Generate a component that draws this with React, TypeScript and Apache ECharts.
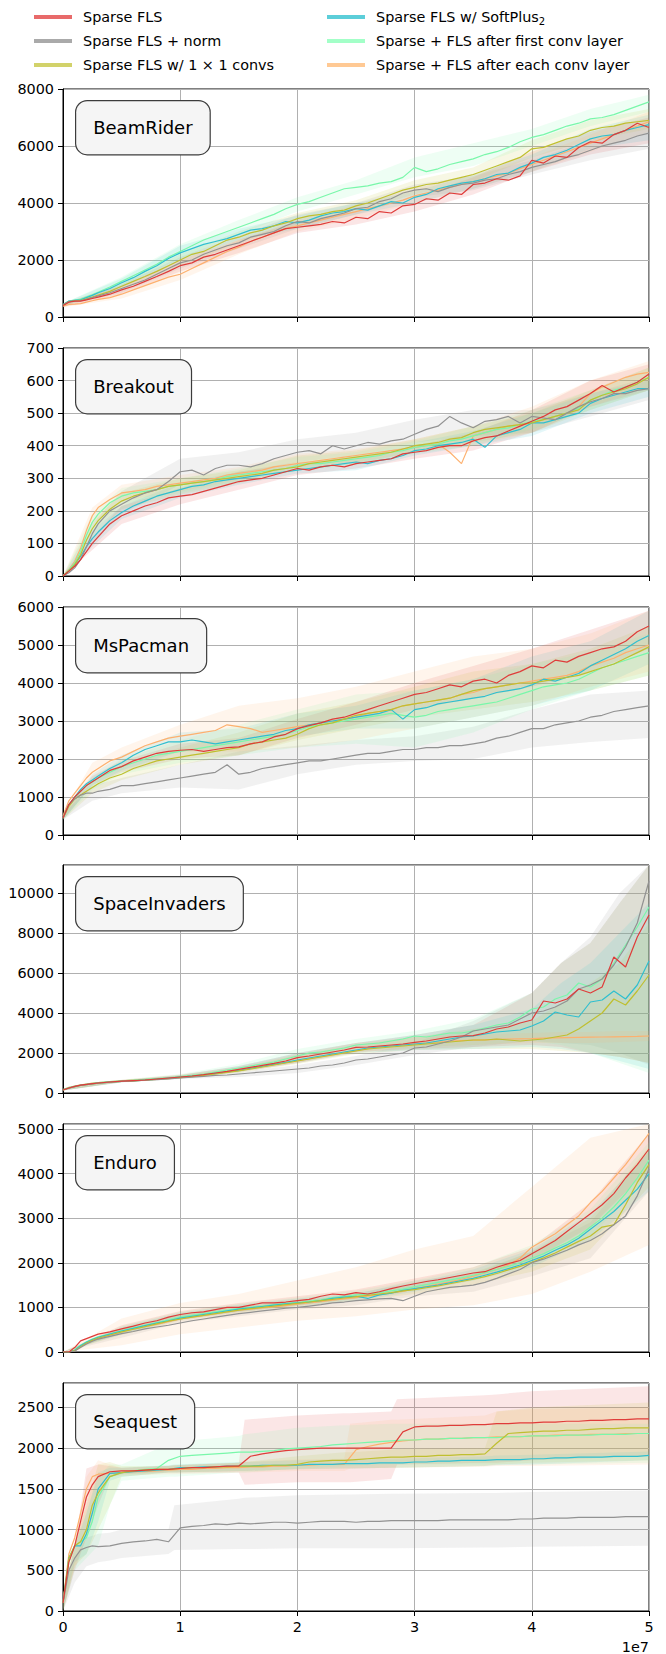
import React, { useEffect, useRef } from "react";
import * as echarts from "echarts";

// ---------- legend / series names ----------
const NAMES = [
  "Sparse FLS",
  "Sparse FLS + norm",
  "Sparse FLS w/ 1 \u00d7 1 convs",
  "Sparse FLS w/ SoftPlus{sub|2}",
  "Sparse + FLS after first conv layer",
  "Sparse + FLS after each conv layer",
];
const LINE_COLORS = ["#df3c3a", "#929292", "#bfbf30", "#2fbfcf", "#79f7aa", "#fdb06e"];
const SWATCH_COLORS = ["#e86a6a", "#aaaaaa", "#d2d26a", "#5cced9", "#a3ffc8", "#ffc994"];
const BAND_RGB = ["224,65,63", "146,146,146", "191,191,48", "47,191,207", "121,247,170", "253,176,110"];

const TITLES = ["BeamRider", "Breakout", "MsPacman", "SpaceInvaders", "Enduro", "Seaquest"];
const Y_MAX = [8000, 700, 6000, 11400, 5110, 2800];
const Y_INTERVAL = [2000, 100, 1000, 2000, 1000, 500];
const X_TICKS = [0, 1, 2, 3, 4, 5];

// steps, in units of 1e7
const X = [0, 0.05, 0.1, 0.15, 0.2, 0.25, 0.3,
  0.4, 0.5, 0.6, 0.7, 0.8, 0.9, 1.0, 1.1, 1.2, 1.3,
  1.4, 1.5, 1.6, 1.7, 1.8, 1.9, 2.0, 2.1, 2.2, 2.3,
  2.4, 2.5, 2.6, 2.7, 2.8, 2.9, 3.0, 3.1, 3.2, 3.3,
  3.4, 3.5, 3.6, 3.7, 3.8, 3.9, 4.0, 4.1, 4.2, 4.3,
  4.4, 4.5, 4.6, 4.7, 4.8, 4.9, 5.0];

// ---------- BeamRider ----------
const BEAM_RED = [400, 520, 560, 560, 600, 650, 700,
  800, 950, 1080, 1250, 1420, 1600, 1800, 1900, 2100, 2200,
  2350, 2500, 2650, 2800, 2950, 3100, 3150, 3200, 3250, 3350,
  3300, 3500, 3450, 3700, 3650, 3900, 3950, 4150, 4100, 4350,
  4300, 4650, 4700, 4850, 4800, 4950, 5500, 5400, 5650, 5600,
  5950, 6150, 6100, 6400, 6550, 6800, 6650];
const BEAM_GRAY = [420, 540, 560, 570, 620, 680, 740,
  850, 1000, 1150, 1300, 1500, 1700, 1900, 2000, 2200, 2350,
  2500, 2600, 2800, 2900, 3000, 3200, 3350, 3300, 3450, 3550,
  3650, 3800, 3850, 4050, 4150, 4350, 4450, 4500, 4400, 4550,
  4650, 4700, 4800, 4850, 5000, 5100, 5250, 5350, 5450, 5600,
  5700, 5850, 6000, 6100, 6200, 6350, 6450];
const BEAM_OLIVE = [420, 540, 570, 580, 640, 700, 770,
  900, 1080, 1250, 1420, 1600, 1800, 2000, 2200, 2300, 2500,
  2700, 2800, 2950, 3050, 3200, 3300, 3450, 3550, 3600, 3700,
  3750, 3900, 4000, 4150, 4300, 4450, 4550, 4650, 4700, 4800,
  4900, 5000, 5150, 5300, 5450, 5600, 5900, 5950, 6100, 6250,
  6350, 6550, 6650, 6700, 6800, 6850, 6900];
const BEAM_CYAN = [430, 560, 580, 600, 680, 760, 850,
  1000, 1200, 1380, 1600, 1800, 2050, 2250, 2400, 2550, 2650,
  2750, 2900, 3050, 3100, 3200, 3350, 3300, 3400, 3550, 3650,
  3700, 3800, 3750, 3900, 4050, 4000, 4200, 4300, 4500, 4600,
  4700, 4750, 4850, 5000, 5050, 5250, 5400, 5600, 5700, 5850,
  6050, 6250, 6350, 6400, 6550, 6650, 6750];
const BEAM_MINT = [430, 560, 590, 620, 700, 780, 870,
  1050, 1250, 1450, 1650, 1850, 2100, 2300, 2500, 2700, 2850,
  3000, 3150, 3300, 3450, 3600, 3800, 3950, 4050, 4200, 4350,
  4500, 4550, 4600, 4700, 4750, 4900, 5250, 5100, 5200, 5350,
  5450, 5550, 5700, 5800, 5950, 6150, 6300, 6400, 6550, 6700,
  6800, 6950, 7000, 7100, 7250, 7400, 7550];
const BEAM_PEACH = [380, 440, 450, 470, 520, 570, 620,
  680, 800, 950, 1100, 1250, 1400, 1500, 1700, 1900, 2100,
  2300, 2450, 2650, 2800, 2950, 3100, 3200, 3300, 3400, 3500,
  3600, 3700, 3800, 3900, 4000, 4100, 4250, 4350, 4450, 4550,
  4650, 4750, 4850, 4950, 5050, 5200, 5350, 5500, 5650, 5800,
  5950, 6100, 6250, 6400, 6550, 6700, 6850];
const BEAM_BX = [0, 0.5, 1, 1.5, 2, 2.5, 3, 3.5, 4, 4.5, 5];
const BEAM_RED_LO = [350, 800, 1600, 2250, 2950, 3250, 3700, 4300, 5100, 5700, 6100];
const BEAM_RED_HI = [480, 1100, 2000, 2700, 3350, 3700, 4200, 4900, 5800, 6500, 7000];
const BEAM_GRAY_LO = [380, 850, 1700, 2400, 3100, 3600, 4200, 4450, 5000, 5500, 5900];
const BEAM_GRAY_HI = [460, 1150, 2100, 2850, 3600, 4000, 4650, 4950, 5500, 6200, 6800];
const BEAM_OLIVE_LO = [380, 950, 1800, 2600, 3250, 3700, 4300, 4750, 5600, 6200, 6600];
const BEAM_OLIVE_HI = [460, 1200, 2200, 3000, 3650, 4100, 4800, 5250, 6200, 6900, 7300];
const BEAM_CYAN_LO = [390, 1050, 2000, 2700, 3100, 3600, 4000, 4500, 5100, 5900, 6200];
const BEAM_CYAN_HI = [470, 1350, 2500, 3100, 3550, 4000, 4400, 5000, 5700, 6600, 7100];
const BEAM_MINT_LO = [390, 1100, 2050, 2900, 3700, 4300, 4900, 5300, 6000, 6700, 7200];
const BEAM_MINT_HI = [470, 1400, 2550, 3400, 4200, 4800, 5600, 6100, 6600, 7300, 7800];
const BEAM_PEACH_LO = [340, 650, 1300, 2200, 3000, 3450, 4000, 4500, 5100, 5800, 6500];
const BEAM_PEACH_HI = [420, 950, 1750, 2700, 3400, 3950, 4500, 5000, 5600, 6400, 7200];

// ---------- Breakout ----------
const BRK_RED = [0, 15, 30, 50, 75, 100, 120,
  160, 185, 200, 215, 225, 240, 245, 250, 260, 270,
  280, 290, 295, 300, 310, 320, 330, 325, 335, 340,
  335, 345, 350, 355, 360, 375, 380, 385, 395, 400,
  400, 415, 425, 430, 445, 460, 475, 490, 510, 520,
  540, 560, 585, 565, 580, 595, 620];
const BRK_GRAY = [0, 10, 25, 50, 90, 130, 160,
  200, 220, 240, 255, 265, 290, 320, 325, 310, 330,
  340, 340, 335, 345, 360, 370, 380, 385, 375, 400,
  390, 400, 410, 405, 415, 420, 435, 450, 460, 490,
  470, 455, 475, 480, 490, 470, 490, 485, 480, 500,
  520, 535, 545, 560, 560, 570, 575];
const BRK_OLIVE = [0, 15, 35, 65, 110, 145, 170,
  205, 230, 245, 255, 265, 275, 280, 285, 290, 295,
  300, 305, 310, 315, 325, 330, 335, 345, 350, 355,
  360, 365, 370, 375, 380, 390, 400, 405, 410, 420,
  425, 440, 450, 455, 460, 465, 470, 480, 490, 500,
  510, 540, 555, 565, 575, 590, 610];
const BRK_CYAN = [0, 15, 35, 60, 90, 115, 135,
  170, 195, 215, 230, 245, 255, 265, 275, 280, 290,
  295, 300, 305, 310, 315, 320, 325, 330, 335, 340,
  345, 350, 345, 355, 360, 370, 385, 390, 400, 405,
  410, 420, 395, 430, 440, 450, 470, 470, 480, 490,
  500, 530, 545, 555, 565, 575, 575];
const BRK_MINT = [0, 18, 40, 75, 125, 165, 190,
  225, 245, 255, 260, 265, 275, 280, 285, 290, 295,
  305, 310, 315, 320, 325, 330, 340, 345, 345, 350,
  355, 360, 365, 370, 380, 385, 395, 400, 405, 415,
  420, 430, 440, 450, 455, 465, 475, 480, 490, 500,
  515, 540, 555, 570, 580, 595, 610];
const BRK_PEACH = [0, 20, 45, 85, 140, 185, 210,
  235, 255, 260, 265, 275, 280, 285, 290, 295, 300,
  310, 315, 320, 325, 335, 340, 345, 350, 355, 360,
  365, 370, 375, 380, 385, 390, 395, 400, 405, 380,
  345, 430, 440, 450, 460, 465, 470, 480, 490, 500,
  520, 560, 580, 595, 610, 620, 625];
const BRK_BX = [0, 0.25, 0.5, 1, 1.5, 2, 2.5, 3, 3.5, 4, 4.5, 5];
const BRK_RED_LO = [0, 80, 160, 220, 265, 310, 330, 360, 385, 440, 520, 570];
const BRK_RED_HI = [0, 120, 215, 270, 320, 350, 365, 400, 440, 510, 600, 650];
const BRK_GRAY_LO = [0, 100, 190, 280, 310, 350, 370, 410, 430, 440, 490, 540];
const BRK_GRAY_HI = [0, 160, 260, 360, 380, 420, 440, 480, 510, 510, 560, 610];
const BRK_OLIVE_LO = [0, 120, 205, 250, 285, 325, 345, 380, 410, 440, 510, 570];
const BRK_OLIVE_HI = [0, 170, 255, 300, 325, 370, 385, 420, 460, 500, 570, 640];
const BRK_CYAN_LO = [0, 90, 175, 240, 280, 315, 325, 370, 400, 430, 500, 550];
const BRK_CYAN_HI = [0, 140, 215, 285, 320, 345, 370, 410, 445, 500, 560, 600];
const BRK_MINT_LO = [0, 140, 220, 255, 290, 325, 340, 375, 400, 450, 510, 570];
const BRK_MINT_HI = [0, 190, 270, 300, 330, 365, 380, 415, 460, 510, 570, 640];
const BRK_PEACH_LO = [0, 160, 230, 260, 295, 335, 350, 380, 400, 440, 520, 580];
const BRK_PEACH_HI = [0, 210, 280, 310, 335, 375, 390, 420, 460, 520, 600, 660];

// ---------- MsPacman ----------
const PAC_RED = [450, 800, 1000, 1150, 1300, 1400, 1500,
  1700, 1800, 1950, 2050, 2150, 2200, 2230, 2250, 2200, 2250,
  2300, 2320, 2400, 2450, 2580, 2650, 2800, 2880, 2950, 3050,
  3100, 3200, 3300, 3400, 3500, 3600, 3700, 3750, 3850, 3950,
  3900, 4050, 4100, 4000, 4200, 4300, 4450, 4400, 4600, 4550,
  4700, 4800, 4900, 4950, 5100, 5350, 5500];
const PAC_GRAY = [450, 800, 950, 1050, 1100, 1100, 1150,
  1200, 1300, 1300, 1350, 1400, 1450, 1500, 1550, 1600, 1650,
  1850, 1600, 1650, 1750, 1800, 1850, 1900, 1950, 1950, 2000,
  2050, 2100, 2150, 2150, 2200, 2250, 2250, 2300, 2300, 2350,
  2350, 2400, 2450, 2550, 2600, 2700, 2800, 2800, 2900, 2950,
  3000, 3100, 3150, 3250, 3300, 3350, 3400];
const PAC_OLIVE = [450, 750, 950, 1050, 1150, 1250, 1350,
  1500, 1600, 1750, 1850, 1950, 2000, 2050, 2100, 2150, 2200,
  2250, 2300, 2400, 2450, 2500, 2550, 2650, 2800, 2900, 2950,
  3050, 3150, 3200, 3250, 3300, 3400, 3450, 3500, 3550, 3600,
  3700, 3800, 3850, 3900, 3950, 4000, 4000, 4050, 4100, 4150,
  4200, 4300, 4400, 4500, 4650, 4800, 4950];
const PAC_CYAN = [450, 800, 1000, 1200, 1350, 1450, 1550,
  1750, 1900, 2100, 2250, 2350, 2450, 2450, 2500, 2450, 2400,
  2450, 2500, 2550, 2600, 2650, 2750, 2800, 2900, 2950, 3000,
  3050, 3100, 3150, 3200, 3300, 3050, 3300, 3350, 3450, 3500,
  3550, 3600, 3650, 3750, 3800, 3850, 3950, 4100, 4050, 4150,
  4250, 4450, 4600, 4750, 4900, 5100, 5250];
const PAC_MINT = [450, 780, 980, 1150, 1300, 1400, 1500,
  1650, 1800, 1900, 2000, 2100, 2150, 2200, 2250, 2300, 2350,
  2400, 2450, 2500, 2550, 2600, 2650, 2750, 2850, 2900, 2950,
  3000, 3050, 3100, 3150, 3200, 3150, 3100, 3150, 3250, 3300,
  3350, 3400, 3450, 3500, 3600, 3700, 3800, 3900, 3950, 4000,
  4100, 4250, 4400, 4500, 4600, 4700, 4800];
const PAC_PEACH = [500, 900, 1100, 1300, 1500, 1650, 1750,
  1950, 2050, 2200, 2350, 2450, 2550, 2600, 2650, 2700, 2750,
  2900, 2850, 2800, 2700, 2750, 2800, 2850, 2900, 2950, 3000,
  3050, 3100, 3200, 3250, 3300, 3400, 3450, 3500, 3550, 3600,
  3700, 3750, 3850, 3900, 3950, 4000, 4050, 4100, 4150, 4200,
  4300, 4450, 4550, 4650, 4800, 4900, 5000];
const PAC_BX = [0, 0.25, 0.5, 1, 1.5, 2, 2.5, 3, 3.5, 4, 4.5, 5];
const PAC_RED_LO = [400, 1300, 1650, 2000, 2100, 2550, 2900, 3300, 3600, 3900, 4300, 4900];
const PAC_RED_HI = [550, 1550, 1950, 2400, 2550, 3050, 3500, 4000, 4450, 4900, 5400, 5900];
const PAC_GRAY_LO = [400, 900, 1100, 1250, 1200, 1600, 1850, 1950, 2000, 2300, 2450, 2550];
const PAC_GRAY_HI = [550, 1300, 1500, 1850, 2200, 2350, 2500, 2600, 2850, 3300, 3700, 3800];
const PAC_OLIVE_LO = [400, 1100, 1450, 1850, 2100, 2500, 2800, 3100, 3300, 3500, 3800, 4200];
const PAC_OLIVE_HI = [550, 1400, 1800, 2300, 2700, 3200, 3500, 3900, 4300, 4500, 4900, 5500];
const PAC_CYAN_LO = [400, 1300, 1700, 2200, 2300, 2600, 2800, 2800, 3100, 3400, 3800, 4500];
const PAC_CYAN_HI = [550, 1600, 2100, 2700, 2800, 3200, 3400, 3800, 4100, 4700, 5100, 5900];
const PAC_MINT_LO = [400, 1200, 1600, 1900, 2100, 2300, 2400, 2300, 2700, 3300, 3800, 4200];
const PAC_MINT_HI = [550, 1500, 2000, 2500, 2900, 3300, 3700, 3800, 4100, 4500, 4800, 5300];
const PAC_PEACH_LO = [450, 1400, 1800, 2200, 2200, 2300, 2500, 2800, 3100, 3400, 3900, 4300];
const PAC_PEACH_HI = [600, 1900, 2300, 2900, 3400, 3600, 3900, 4300, 4700, 4900, 5300, 5900];

// ---------- SpaceInvaders ----------
const SI_RED = [150, 250, 330, 390, 430, 470, 500,
  550, 590, 620, 650, 700, 750, 800, 850, 920, 1000,
  1080, 1180, 1280, 1380, 1480, 1600, 1770, 1850, 1950, 2050,
  2150, 2280, 2300, 2350, 2400, 2450, 2530, 2600, 2700, 2800,
  2850, 2870, 3000, 3200, 3300, 3500, 3650, 4600, 4500, 4700,
  5200, 5000, 5300, 6800, 6300, 7800, 8900];
const SI_GRAY = [150, 240, 320, 380, 420, 460, 490,
  540, 580, 610, 640, 670, 710, 750, 790, 830, 880,
  900, 950, 1000, 1050, 1100, 1150, 1200, 1250, 1350, 1400,
  1500, 1650, 1700, 1800, 1900, 2000, 2250, 2300, 2450, 2600,
  2800, 3100, 3200, 3300, 3400, 3700, 4000, 4100, 4300, 4600,
  5200, 5400, 5700, 6400, 7300, 8500, 10600];
const SI_OLIVE = [150, 250, 320, 380, 420, 460, 490,
  540, 580, 610, 640, 680, 720, 770, 820, 880, 950,
  1030, 1110, 1200, 1300, 1400, 1500, 1600, 1700, 1800, 1900,
  2000, 2100, 2200, 2250, 2300, 2350, 2400, 2450, 2500, 2550,
  2600, 2650, 2650, 2700, 2650, 2600, 2650, 2700, 2800, 2900,
  3200, 3600, 4000, 4700, 4400, 5100, 5900];
const SI_CYAN = [160, 250, 320, 380, 420, 460, 490,
  540, 580, 610, 640, 690, 740, 790, 840, 900, 980,
  1050, 1130, 1230, 1330, 1430, 1530, 1650, 1750, 1850, 1950,
  2050, 2150, 2250, 2300, 2350, 2400, 2450, 2500, 2600, 2700,
  2800, 2850, 2950, 3050, 3100, 3150, 3350, 3600, 4050, 3900,
  3800, 4550, 4650, 5100, 4700, 5400, 6600];
const SI_MINT = [160, 270, 340, 400, 440, 480, 520,
  570, 610, 640, 680, 720, 760, 820, 880, 950, 1050,
  1150, 1250, 1350, 1450, 1550, 1700, 1850, 2000, 2050, 2150,
  2250, 2400, 2450, 2500, 2600, 2700, 2850, 2800, 2900, 3000,
  3000, 3100, 3250, 3400, 3500, 3800, 4200, 4300, 4700, 4900,
  5500, 5300, 5700, 6500, 7400, 8300, 9300];
const SI_PEACH = [170, 280, 350, 410, 450, 490, 520,
  570, 610, 640, 670, 700, 740, 790, 840, 900, 970,
  1050, 1130, 1220, 1320, 1420, 1520, 1620, 1720, 1820, 1920,
  2020, 2120, 2220, 2300, 2350, 2400, 2450, 2500, 2550, 2600,
  2620, 2640, 2660, 2680, 2700, 2710, 2720, 2740, 2760, 2770,
  2780, 2790, 2800, 2810, 2820, 2830, 2850];
const SI_BX = [0, 0.5, 1, 1.5, 2, 2.5, 3, 3.5, 4, 4.25, 4.5, 4.75, 5];
const SI_RED_LO = [120, 550, 750, 1050, 1500, 2050, 2200, 2300, 2400, 2300, 2000, 1800, 1500];
const SI_RED_HI = [200, 650, 900, 1350, 2000, 2500, 2900, 3400, 5000, 6500, 7500, 9500, 11400];
const SI_GRAY_LO = [120, 530, 700, 800, 1000, 1400, 1900, 2300, 2600, 2500, 2400, 2000, 1400];
const SI_GRAY_HI = [200, 620, 850, 1050, 1400, 1850, 2500, 3600, 5000, 6500, 7800, 10000, 11400];
const SI_OLIVE_LO = [120, 540, 740, 1000, 1450, 1950, 2150, 2200, 2200, 2100, 2000, 1800, 1500];
const SI_OLIVE_HI = [200, 630, 880, 1250, 1900, 2400, 2800, 3200, 3600, 4500, 5500, 6500, 8500];
const SI_CYAN_LO = [120, 540, 750, 1050, 1500, 2000, 2150, 2200, 2300, 2200, 2000, 1600, 1200];
const SI_CYAN_HI = [200, 630, 900, 1350, 2000, 2500, 2900, 3400, 4200, 5500, 6500, 8000, 9500];
const SI_MINT_LO = [130, 560, 760, 1100, 1600, 2100, 2300, 2400, 2600, 2400, 2000, 1500, 1000];
const SI_MINT_HI = [210, 660, 950, 1450, 2200, 2700, 3100, 3700, 5000, 6500, 7500, 9500, 11400];
const SI_PEACH_LO = [140, 560, 760, 1050, 1500, 2000, 2300, 2400, 2500, 2500, 2500, 2550, 2600];
const SI_PEACH_HI = [220, 660, 920, 1300, 1950, 2500, 2800, 2900, 3000, 3050, 3050, 3100, 3100];

// ---------- Enduro ----------
const END_RED = [0, 0, 100, 250, 300, 350, 400,
  450, 520, 580, 650, 700, 780, 840, 880, 900, 950,
  1000, 1000, 1050, 1100, 1100, 1120, 1150, 1180, 1250, 1300,
  1280, 1330, 1300, 1350, 1420, 1480, 1530, 1580, 1620, 1670,
  1720, 1770, 1800, 1900, 1980, 2050, 2200, 2350, 2500, 2700,
  2900, 3100, 3300, 3550, 3900, 4200, 4550];
const END_GRAY = [0, 0, 20, 100, 180, 240, 290,
  350, 410, 460, 520, 560, 600, 650, 700, 740, 780,
  820, 860, 890, 920, 950, 980, 1000, 1030, 1060, 1100,
  1120, 1150, 1170, 1190, 1200, 1150, 1250, 1350, 1400, 1450,
  1470, 1500, 1560, 1650, 1750, 1850, 2000, 2080, 2180, 2280,
  2400, 2500, 2650, 2850, 3050, 3500, 4100];
const END_OLIVE = [0, 0, 30, 120, 200, 260, 310,
  380, 450, 510, 570, 630, 690, 740, 780, 820, 860,
  900, 940, 970, 1000, 1030, 1060, 1090, 1120, 1150, 1180,
  1210, 1240, 1270, 1300, 1330, 1370, 1400, 1440, 1480, 1530,
  1580, 1630, 1690, 1760, 1840, 1920, 2010, 2110, 2220, 2350,
  2480, 2600, 2800, 2850, 3300, 3800, 4200];
const END_CYAN = [0, 0, 40, 140, 220, 280, 330,
  400, 470, 530, 590, 650, 700, 760, 800, 840, 880,
  920, 960, 990, 1020, 1050, 1080, 1100, 1120, 1150, 1200,
  1230, 1250, 1200, 1280, 1320, 1380, 1420, 1460, 1500, 1550,
  1600, 1650, 1720, 1790, 1870, 1950, 2050, 2150, 2280, 2400,
  2550, 2750, 2950, 3150, 3400, 3650, 4000];
const END_MINT = [0, 0, 50, 150, 230, 290, 340,
  410, 480, 540, 600, 660, 720, 780, 820, 860, 900,
  940, 970, 1000, 1030, 1060, 1090, 1110, 1140, 1170, 1220,
  1250, 1280, 1300, 1330, 1370, 1410, 1460, 1510, 1560, 1610,
  1660, 1720, 1780, 1850, 1920, 2000, 2100, 2200, 2330, 2450,
  2600, 2800, 3000, 3250, 3550, 3900, 4300];
const END_PEACH = [0, 0, 30, 120, 200, 260, 310,
  380, 450, 520, 580, 620, 680, 740, 780, 820, 860,
  900, 940, 960, 990, 1010, 1040, 1070, 1100, 1130, 1160,
  1190, 1220, 1250, 1280, 1320, 1360, 1420, 1470, 1520, 1570,
  1630, 1700, 1780, 1850, 1950, 2100, 2350, 2500, 2650, 2850,
  3050, 3350, 3600, 3900, 4200, 4550, 4900];
const END_BX = [0, 0.5, 1, 1.5, 2, 2.5, 3, 3.5, 4, 4.5, 5];
const END_RED_LO = [0, 420, 720, 900, 1050, 1200, 1450, 1650, 2050, 2800, 4100];
const END_RED_HI = [0, 600, 920, 1100, 1250, 1400, 1650, 1900, 2350, 3350, 4900];
const END_GRAY_LO = [0, 320, 650, 800, 950, 1050, 1250, 1350, 1700, 2100, 3600];
const END_GRAY_HI = [0, 500, 850, 1000, 1150, 1300, 1600, 1750, 2250, 2900, 4500];
const END_OLIVE_LO = [0, 380, 700, 880, 1020, 1150, 1300, 1500, 1800, 2300, 3700];
const END_OLIVE_HI = [0, 540, 860, 1020, 1150, 1280, 1500, 1780, 2250, 3000, 4600];
const END_CYAN_LO = [0, 400, 720, 900, 1030, 1150, 1350, 1600, 1900, 2500, 3600];
const END_CYAN_HI = [0, 560, 880, 1060, 1200, 1320, 1550, 1850, 2300, 3100, 4500];
const END_MINT_LO = [0, 420, 740, 920, 1050, 1200, 1400, 1600, 2000, 2600, 3900];
const END_MINT_HI = [0, 580, 900, 1080, 1220, 1370, 1600, 1900, 2400, 3200, 4700];
const END_PEACH_LO = [0, 150, 400, 550, 700, 800, 950, 1050, 1300, 1800, 2400];
const END_PEACH_HI = [0, 750, 1100, 1300, 1600, 1900, 2300, 2600, 3700, 4800, 5110];

// ---------- Seaquest ----------
const SEA_RED = [100, 600, 800, 1100, 1400, 1550, 1650,
  1710, 1720, 1720, 1730, 1740, 1740, 1750, 1760, 1760, 1770,
  1780, 1780, 1900, 1930, 1950, 1970, 1980, 1990, 2000, 2000,
  2000, 2000, 2000, 2000, 2000, 2200, 2260, 2270, 2270, 2280,
  2280, 2290, 2290, 2300, 2300, 2310, 2310, 2320, 2320, 2330,
  2330, 2340, 2340, 2350, 2350, 2360, 2360];
const SEA_GRAY = [100, 500, 650, 750, 780, 800, 790,
  800, 830, 850, 860, 880, 850, 1020, 1040, 1050, 1070,
  1060, 1080, 1070, 1080, 1090, 1090, 1080, 1090, 1100, 1100,
  1100, 1090, 1100, 1100, 1110, 1110, 1110, 1110, 1110, 1120,
  1120, 1120, 1120, 1120, 1120, 1130, 1130, 1140, 1140, 1140,
  1150, 1150, 1150, 1150, 1160, 1160, 1160];
const SEA_OLIVE = [100, 650, 800, 850, 1000, 1300, 1450,
  1650, 1700, 1720, 1730, 1740, 1740, 1750, 1760, 1760, 1770,
  1770, 1780, 1780, 1780, 1790, 1790, 1800, 1830, 1840, 1850,
  1850, 1860, 1870, 1880, 1890, 1890, 1900, 1900, 1910, 1910,
  1920, 1920, 1930, 2060, 2180, 2190, 2200, 2210, 2210, 2220,
  2220, 2230, 2240, 2240, 2250, 2250, 2250];
const SEA_CYAN = [100, 650, 800, 800, 950, 1200, 1500,
  1690, 1700, 1710, 1720, 1730, 1740, 1760, 1760, 1770, 1770,
  1780, 1780, 1780, 1790, 1790, 1790, 1790, 1800, 1800, 1800,
  1810, 1810, 1810, 1820, 1820, 1820, 1830, 1830, 1840, 1840,
  1850, 1850, 1850, 1860, 1860, 1860, 1870, 1870, 1880, 1880,
  1890, 1890, 1890, 1900, 1900, 1900, 1910];
const SEA_MINT = [100, 600, 800, 850, 900, 1100, 1400,
  1650, 1700, 1720, 1740, 1750, 1850, 1900, 1910, 1920, 1930,
  1940, 1950, 1950, 1960, 1970, 1990, 2000, 2010, 2020, 2040,
  2050, 2060, 2070, 2080, 2090, 2100, 2100, 2110, 2110, 2120,
  2120, 2130, 2130, 2130, 2140, 2140, 2150, 2150, 2150, 2160,
  2160, 2160, 2170, 2170, 2170, 2180, 2180];
const SEA_PEACH = [100, 700, 900, 1200, 1500, 1650, 1680,
  1690, 1700, 1710, 1710, 1720, 1730, 1740, 1740, 1750, 1750,
  1760, 1760, 1770, 1770, 1780, 1780, 1790, 1790, 1800, 1800,
  1800, 1980, 2020, 2050, 2070, 2090, 2100, 2110, 2110, 2120,
  2120, 2130, 2130, 2140, 2140, 2140, 2150, 2150, 2160, 2160,
  2160, 2170, 2170, 2170, 2180, 2180, 2180];
const SEA_BX = [0, 0.1, 0.2, 0.3, 0.4, 0.5, 0.9, 0.95, 1.5, 1.55, 2, 2.4, 2.45, 2.8, 2.85, 3.6, 3.7, 4, 5];
const SEA_RED_LO = [0, 500, 900, 1300, 1650, 1680, 1700, 1700, 1700, 1550, 1580, 1580, 1580, 1620, 1800, 1820, 1820, 1850, 1900];
const SEA_RED_HI = [200, 800, 1750, 1800, 1780, 1760, 1780, 1790, 1820, 2350, 2400, 2430, 2430, 2450, 2600, 2650, 2660, 2700, 2760];
const SEA_GRAY_LO = [0, 350, 550, 600, 620, 650, 700, 750, 760, 760, 770, 770, 770, 770, 770, 780, 780, 790, 800];
const SEA_GRAY_HI = [200, 650, 900, 950, 960, 1000, 1000, 1300, 1380, 1390, 1420, 1430, 1430, 1440, 1440, 1450, 1450, 1460, 1480];
const SEA_OLIVE_LO = [0, 550, 700, 1000, 1300, 1650, 1700, 1700, 1720, 1720, 1740, 1750, 1750, 1760, 1760, 1780, 1800, 1820, 1850];
const SEA_OLIVE_HI = [200, 850, 1300, 1800, 1830, 1780, 1780, 1790, 1820, 1830, 1900, 1950, 1950, 1980, 1990, 2000, 2450, 2500, 2560];
const SEA_CYAN_LO = [0, 600, 700, 1100, 1600, 1650, 1700, 1700, 1720, 1720, 1740, 1750, 1750, 1760, 1760, 1780, 1790, 1800, 1850];
const SEA_CYAN_HI = [200, 800, 1200, 1700, 1760, 1760, 1790, 1800, 1830, 1830, 1850, 1860, 1860, 1870, 1870, 1900, 1910, 1920, 1960];
const SEA_MINT_LO = [0, 500, 650, 800, 1300, 1600, 1650, 1650, 1700, 1700, 1750, 1780, 1780, 1800, 1800, 1800, 1800, 1800, 1820];
const SEA_MINT_HI = [200, 800, 1200, 1650, 1800, 1800, 2050, 2080, 2150, 2170, 2250, 2280, 2280, 2300, 2300, 2300, 2300, 2300, 2300];
const SEA_PEACH_LO = [0, 550, 900, 1400, 1650, 1660, 1680, 1680, 1700, 1700, 1720, 1720, 1750, 1760, 1760, 1770, 1780, 1780, 1800];
const SEA_PEACH_HI = [200, 850, 1650, 1850, 1800, 1760, 1780, 1790, 1820, 1830, 1860, 1870, 2300, 2350, 2350, 2400, 2450, 2480, 2500];

// ---------- layout ----------
const PANEL_TOPS = [89, 348, 607, 865, 1124, 1383];
const PANEL_H = 228;
const PANEL_LEFT = 63;
const PANEL_W = 586;
const FONT = '"DejaVu Sans", "Liberation Sans", sans-serif';

const PANEL_LINES = [
  [BEAM_RED, BEAM_GRAY, BEAM_OLIVE, BEAM_CYAN, BEAM_MINT, BEAM_PEACH],
  [BRK_RED, BRK_GRAY, BRK_OLIVE, BRK_CYAN, BRK_MINT, BRK_PEACH],
  [PAC_RED, PAC_GRAY, PAC_OLIVE, PAC_CYAN, PAC_MINT, PAC_PEACH],
  [SI_RED, SI_GRAY, SI_OLIVE, SI_CYAN, SI_MINT, SI_PEACH],
  [END_RED, END_GRAY, END_OLIVE, END_CYAN, END_MINT, END_PEACH],
  [SEA_RED, SEA_GRAY, SEA_OLIVE, SEA_CYAN, SEA_MINT, SEA_PEACH],
];
const PANEL_BX = [BEAM_BX, BRK_BX, PAC_BX, SI_BX, END_BX, SEA_BX];
const PANEL_BANDS = [
  [[BEAM_RED_LO, BEAM_RED_HI], [BEAM_GRAY_LO, BEAM_GRAY_HI], [BEAM_OLIVE_LO, BEAM_OLIVE_HI], [BEAM_CYAN_LO, BEAM_CYAN_HI], [BEAM_MINT_LO, BEAM_MINT_HI], [BEAM_PEACH_LO, BEAM_PEACH_HI]],
  [[BRK_RED_LO, BRK_RED_HI], [BRK_GRAY_LO, BRK_GRAY_HI], [BRK_OLIVE_LO, BRK_OLIVE_HI], [BRK_CYAN_LO, BRK_CYAN_HI], [BRK_MINT_LO, BRK_MINT_HI], [BRK_PEACH_LO, BRK_PEACH_HI]],
  [[PAC_RED_LO, PAC_RED_HI], [PAC_GRAY_LO, PAC_GRAY_HI], [PAC_OLIVE_LO, PAC_OLIVE_HI], [PAC_CYAN_LO, PAC_CYAN_HI], [PAC_MINT_LO, PAC_MINT_HI], [PAC_PEACH_LO, PAC_PEACH_HI]],
  [[SI_RED_LO, SI_RED_HI], [SI_GRAY_LO, SI_GRAY_HI], [SI_OLIVE_LO, SI_OLIVE_HI], [SI_CYAN_LO, SI_CYAN_HI], [SI_MINT_LO, SI_MINT_HI], [SI_PEACH_LO, SI_PEACH_HI]],
  [[END_RED_LO, END_RED_HI], [END_GRAY_LO, END_GRAY_HI], [END_OLIVE_LO, END_OLIVE_HI], [END_CYAN_LO, END_CYAN_HI], [END_MINT_LO, END_MINT_HI], [END_PEACH_LO, END_PEACH_HI]],
  [[SEA_RED_LO, SEA_RED_HI], [SEA_GRAY_LO, SEA_GRAY_HI], [SEA_OLIVE_LO, SEA_OLIVE_HI], [SEA_CYAN_LO, SEA_CYAN_HI], [SEA_MINT_LO, SEA_MINT_HI], [SEA_PEACH_LO, SEA_PEACH_HI]],
];

function buildOption() {
  const grids: any[] = [];
  const xAxes: any[] = [];
  const yAxes: any[] = [];
  const series: any[] = [];
  const graphics: any[] = [];

  for (let p = 0; p < 6; p++) {
    const ymax = Y_MAX[p];
    grids.push({
      left: PANEL_LEFT,
      top: PANEL_TOPS[p],
      width: PANEL_W,
      height: PANEL_H,
      show: true,
      borderColor: "#000",
      borderWidth: 1,
      backgroundColor: "transparent",
      containLabel: false,
    });
    xAxes.push({
      type: "value",
      gridIndex: p,
      min: X_TICKS[0],
      max: X_TICKS[X_TICKS.length - 1],
      interval: 1,
      axisLine: { show: true, onZero: false, lineStyle: { color: "#000", width: 1 } },
      axisTick: { show: true, length: 5, lineStyle: { color: "#000", width: 1 } },
      axisLabel: {
        show: p === 5,
        color: "#000",
        fontSize: 14.4,
        fontFamily: FONT,
        margin: 9,
        formatter: (v: number) => String(v),
      },
      splitLine: { show: true, lineStyle: { color: "#b0b0b0", width: 1 } },
    });
    yAxes.push({
      type: "value",
      gridIndex: p,
      min: 0,
      max: ymax,
      interval: Y_INTERVAL[p],
      axisLine: { show: true, onZero: false, lineStyle: { color: "#000", width: 1 } },
      axisTick: { show: true, length: 5, lineStyle: { color: "#000", width: 1 } },
      axisLabel: {
        color: "#000",
        fontSize: 14.4,
        fontFamily: FONT,
        margin: 9,
        showMaxLabel: ymax % Y_INTERVAL[p] === 0,
        formatter: (v: number) => String(v),
      },
      splitLine: { show: true, lineStyle: { color: "#b0b0b0", width: 1 } },
    });

    // bands
    const bx = PANEL_BX[p];
    PANEL_BANDS[p].forEach((band, s) => {
      const lo = band[0];
      const hi = band[1];
      const n = Math.min(bx.length, lo.length, hi.length);
      series.push({
        type: "custom",
        xAxisIndex: p,
        yAxisIndex: p,
        silent: true,
        clip: true,
        z: 1,
        data: [[0, 0]],
        encode: { x: 0, y: 1 },
        renderItem: (_params: any, api: any) => {
          const pts: number[][] = [];
          for (let i = 0; i < n; i++) pts.push(api.coord([bx[i], Math.min(hi[i], ymax)]));
          for (let i = n - 1; i >= 0; i--) pts.push(api.coord([bx[i], Math.min(lo[i], ymax)]));
          return {
            type: "polygon",
            shape: { points: pts },
            style: { fill: `rgba(${BAND_RGB[s]},0.13)`, stroke: "none" },
          };
        },
      });
    });

    // lines: draw peach first, red last (on top)
    const lines = PANEL_LINES[p];
    for (let s = lines.length - 1; s >= 0; s--) {
      const arr = lines[s];
      const n = Math.min(arr.length, X.length);
      const data: number[][] = [];
      for (let i = 0; i < n; i++) data.push([X[i], arr[i]]);
      series.push({
        type: "line",
        xAxisIndex: p,
        yAxisIndex: p,
        data,
        showSymbol: false,
        symbol: "none",
        silent: true,
        z: 3,
        lineStyle: { color: LINE_COLORS[s], width: 1.2 },
        itemStyle: { color: LINE_COLORS[s] },
      });
    }

    // title box
    graphics.push({
      type: "text",
      left: 75,
      top: PANEL_TOPS[p] + 11,
      z: 100,
      style: {
        text: TITLES[p],
        font: `18px ${FONT}`,
        fill: "#000",
        lineHeight: 21,
        backgroundColor: "#f5f5f5",
        borderColor: "#3c3c3c",
        borderWidth: 1.2,
        borderRadius: 11,
        padding: [16, 17, 16, 17],
      },
    });
  }

  // legend
  const legendRows = [17, 41, 65];
  const colSwatch = [[34, 72], [327, 365]];
  const colText = [83, 376];
  NAMES.forEach((name, i) => {
    const col = Math.floor(i / 3);
    const row = i % 3;
    const y = legendRows[row];
    graphics.push({
      type: "line",
      shape: { x1: colSwatch[col][0], y1: y, x2: colSwatch[col][1], y2: y },
      style: { stroke: SWATCH_COLORS[i], lineWidth: 4 },
    });
    graphics.push({
      type: "text",
      left: colText[col],
      top: y - 9,
      style: {
        text: name,
        font: `14.4px ${FONT}`,
        fill: "#000",
        lineHeight: 18,
        rich: {
          sub: { fontSize: 10, fontFamily: FONT, fill: "#000", lineHeight: 18, verticalAlign: "bottom", padding: [6, 0, 0, 0] },
        },
      },
    });
  });

  // x offset text
  graphics.push({
    type: "text",
    right: 666 - 649,
    top: 1640,
    style: { text: "1e7", font: `14.4px ${FONT}`, fill: "#000" },
  });

  return {
    animation: false,
    textStyle: { fontFamily: FONT },
    grid: grids,
    xAxis: xAxes,
    yAxis: yAxes,
    series,
    graphic: graphics,
  };
}

export default function App() {
  const ref = useRef<HTMLDivElement>(null);
  useEffect(() => {
    document.body.style.margin = "0";
    if (!ref.current) return;
    const chart = echarts.init(ref.current, undefined, { renderer: "svg" });
    chart.setOption(buildOption() as any);
    return () => {
      chart.dispose();
    };
  }, []);
  return (
    <div
      ref={ref}
      style={{ position: "absolute", left: 0, top: 0, width: 666, height: 1654, background: "#fff" }}
    />
  );
}
